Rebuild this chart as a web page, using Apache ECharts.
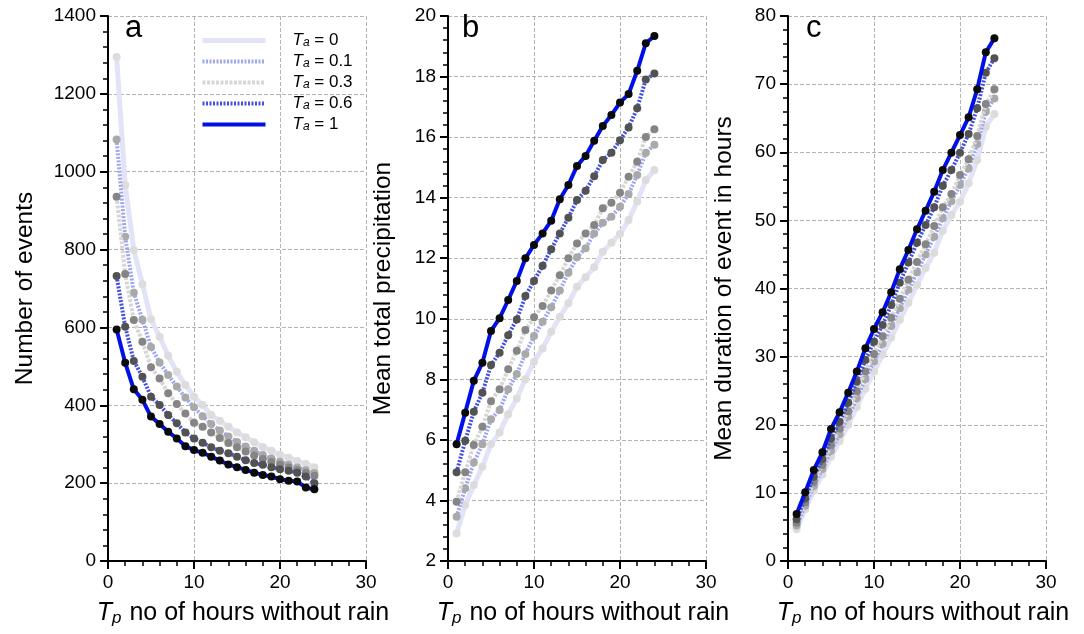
<!DOCTYPE html>
<html>
<head>
<meta charset="utf-8">
<script src="https://cdn.jsdelivr.net/npm/echarts@6/dist/echarts.min.js"></script>
<style>
html,body{margin:0;padding:0;background:#fff;}
#chart{width:1084px;height:634px;}
</style>
</head>
<body>
<div id="chart"></div>
<script>
// ---- data ----
const hours = [1,2,3,4,5,6,7,8,9,10,11,12,13,14,15,16,17,18,19,20,21,22,23,24];
const seriesNames = ['Ta = 0','Ta = 0.1','Ta = 0.3','Ta = 0.6','Ta = 1'];
const xTicks = [0,10,20,30];

// panel a: number of events
const eventsTa0  = [1295,966,799,711,621,576,527,486,452,422,401,375,360,345,330,318,305,293,283,273,265,257,249,241];
const eventsTa01 = [1083,833,689,620,550,510,478,448,420,395,372,352,335,320,306,294,283,272,263,255,247,240,233,226];
const eventsTa03 = [936,737,619,563,498,469,431,403,379,355,345,330,316,303,292,281,271,262,254,247,240,233,226,219];
const eventsTa06 = [732,602,514,473,422,401,375,354,330,315,304,292,283,277,268,259,252,247,241,236,232,227,217,200];
const eventsTa1  = [595,509,441,414,371,352,332,315,295,285,278,268,258,248,241,234,227,221,217,210,206,204,189,184];

// panel b: mean total precipitation
const precipTa0  = [2.91,3.85,4.51,5.11,5.86,6.24,6.85,7.37,8.0,8.58,9.02,9.57,10.07,10.51,11.06,11.37,11.7,12.21,12.51,12.8,13.26,13.87,14.58,14.91];
const precipTa01 = [3.46,4.4,5.25,5.86,6.68,6.99,7.67,8.18,8.84,9.43,9.9,10.38,10.93,11.52,12.03,12.33,12.82,13.17,13.37,13.7,14.12,14.75,15.48,15.75];
const precipTa03 = [3.96,4.93,5.83,6.43,7.28,7.67,8.33,8.94,9.63,10.05,10.42,10.93,11.44,12.0,12.49,12.82,13.1,13.65,13.83,14.16,14.69,15.19,16.0,16.26];
const precipTa06 = [4.93,5.97,6.93,7.56,8.47,8.88,9.46,9.98,10.75,11.25,11.75,12.3,12.82,13.34,13.92,14.23,14.71,15.24,15.48,15.9,16.32,16.95,17.9,18.1];
const precipTa1  = [5.86,6.9,7.95,8.55,9.6,10.02,10.62,11.25,12.0,12.44,12.82,13.24,13.95,14.42,15.05,15.38,15.88,16.37,16.73,17.14,17.42,18.19,19.1,19.34];

// panel c: mean duration of event in hours
const durTa0  = [4.65,7.6,10.3,12.7,15.3,17.6,20.0,22.6,25.3,27.8,30.3,32.8,35.4,37.9,40.5,43.0,45.26,48.49,50.79,52.75,55.44,58.86,63.76,65.6];
const durTa01 = [5.2,8.1,11.0,13.5,16.2,18.6,21.2,23.9,26.7,29.3,31.9,34.5,37.1,39.8,42.4,45.0,47.6,50.3,52.8,55.2,57.63,61.21,65.96,67.9];
const durTa03 = [5.6,8.6,11.6,14.1,17.0,19.4,22.0,24.9,27.8,30.4,33.0,35.7,38.5,41.3,43.9,46.5,49.17,51.92,53.87,56.66,58.96,62.39,67.08,69.24];
const durTa06 = [6.12,9.2,12.37,14.93,18.0,20.45,23.24,26.32,29.5,32.2,34.64,37.58,40.85,43.8,46.72,49.32,51.92,55.09,57.39,59.93,62.68,66.45,71.68,73.79];
const durTa1  = [6.9,10.08,13.36,15.96,19.38,21.83,24.71,27.8,31.22,34.06,36.51,39.44,42.84,45.65,48.69,51.42,54.21,57.39,59.93,62.53,65.13,69.24,74.67,76.72];

// ---- styles ----
const styles = [
  {line:'#e2e2f8', width:5, type:'solid', marker:'#dcdcdc'},
  {line:'#9ea6f0', width:4, type:[2,1.5], marker:'#a9a9a9'},
  {line:'#d6d6d6', width:4, type:[3,1.5], marker:'#858585'},
  {line:'#4350de', width:4, type:[2,1.5], marker:'#525252'},
  {line:'#0010e6', width:4, type:'solid', marker:'#0a0a0a'}
];

const FONT = "'Liberation Sans', Arial, sans-serif";

function pairs(arr){ return hours.map((h,i)=>[h, arr[i]]); }

const panels = [
  {data:[eventsTa0,eventsTa01,eventsTa03,eventsTa06,eventsTa1], min:0, max:1400, interval:200, left:108, yname:'Number of events', gap:70},
  {data:[precipTa0,precipTa01,precipTa03,precipTa06,precipTa1], min:2, max:20, interval:2, left:448, yname:'Mean total precipitation', gap:52},
  {data:[durTa0,durTa01,durTa03,durTa06,durTa1], min:0, max:80, interval:10, left:788, yname:'Mean duration of event in hours', gap:51}
];

const grid = [], xAxis = [], yAxis = [], series = [];
const axisCommon = {
  axisLine:{show:true, onZero:false, lineStyle:{color:'#000', width:2}},
  axisTick:{show:true, inside:false, length:8, lineStyle:{color:'#000', width:2}},
  minorTick:{show:true, splitNumber:5, length:5, lineStyle:{color:'#000', width:1.5}},
  splitLine:{show:true, lineStyle:{color:'#b4b4b4', type:[4,2], width:1}},
  axisLabel:{color:'#000', fontSize:19, fontFamily:FONT, margin:12, formatter:function(v){return String(v);}}
};
panels.forEach((p,pi)=>{
  grid.push({left:p.left, width:258, top:16, height:545});
  xAxis.push(Object.assign({}, axisCommon, {
    type:'value', gridIndex:pi, min:xTicks[0], max:xTicks[xTicks.length-1], interval:10,
    name:'{i|T}{s|p}{n| no of hours without rain}', nameLocation:'middle', nameGap:39,
    nameTextStyle:{color:'#000', fontFamily:FONT, padding:[0,0,0,12], rich:{
      i:{fontStyle:'italic', fontSize:25, fontFamily:FONT, color:'#000', lineHeight:27},
      s:{fontStyle:'italic', fontSize:17, fontFamily:FONT, color:'#000', verticalAlign:'bottom', lineHeight:16, padding:[12,1,0,0]},
      n:{fontSize:25, fontFamily:FONT, color:'#000', lineHeight:27}
    }}
  }));
  yAxis.push(Object.assign({}, axisCommon, {
    type:'value', gridIndex:pi, min:p.min, max:p.max, interval:p.interval,
    name:p.yname, nameLocation:'middle', nameGap:p.gap,
    nameTextStyle:{color:'#000', fontSize:24.5, fontFamily:FONT}
  }));
  p.data.forEach((arr,si)=>{
    const st = styles[si];
    series.push({
      type:'line', name:seriesNames[si], xAxisIndex:pi, yAxisIndex:pi,
      data:pairs(arr), symbol:'circle', symbolSize:8, showSymbol:true,
      lineStyle:{color:st.line, width:st.width, type:st.type},
      itemStyle:{color:st.marker, borderWidth:0},
      emphasis:{disabled:true}, animation:false, z:2+si
    });
  });
});

const chart = echarts.init(document.getElementById('chart'), null, {renderer:'canvas'});
chart.setOption({
  backgroundColor:'#fff',
  animation:false,
  grid, xAxis, yAxis, series,
  title:[
    {text:'a', left:120, top:8, textStyle:{fontSize:31, fontWeight:'normal', color:'#000', fontFamily:FONT}},
    {text:'b', left:457, top:8, textStyle:{fontSize:31, fontWeight:'normal', color:'#000', fontFamily:FONT}},
    {text:'c', left:801, top:8, textStyle:{fontSize:31, fontWeight:'normal', color:'#000', fontFamily:FONT}}
  ],
  legend:{
    orient:'vertical', left:195, top:25, itemWidth:63, itemHeight:12, itemGap:2,
    data:seriesNames,
    itemStyle:{opacity:0},
    lineStyle:{width:'inherit', type:'inherit'},
    formatter:function(name){ return '{p|}{i|T}{s|a}{n| = ' + name.split('= ')[1] + '}'; },
    textStyle:{color:'#000', fontFamily:FONT, rich:{
      p:{width:22},
      i:{fontStyle:'italic', fontSize:17, color:'#000', fontFamily:FONT, lineHeight:17},
      s:{fontStyle:'italic', fontSize:12, color:'#000', fontFamily:FONT, verticalAlign:'bottom', lineHeight:11, padding:[7,0,0,0]},
      n:{fontSize:17, color:'#000', fontFamily:FONT, lineHeight:17}
    }}
  }
});
</script>
</body>
</html>
